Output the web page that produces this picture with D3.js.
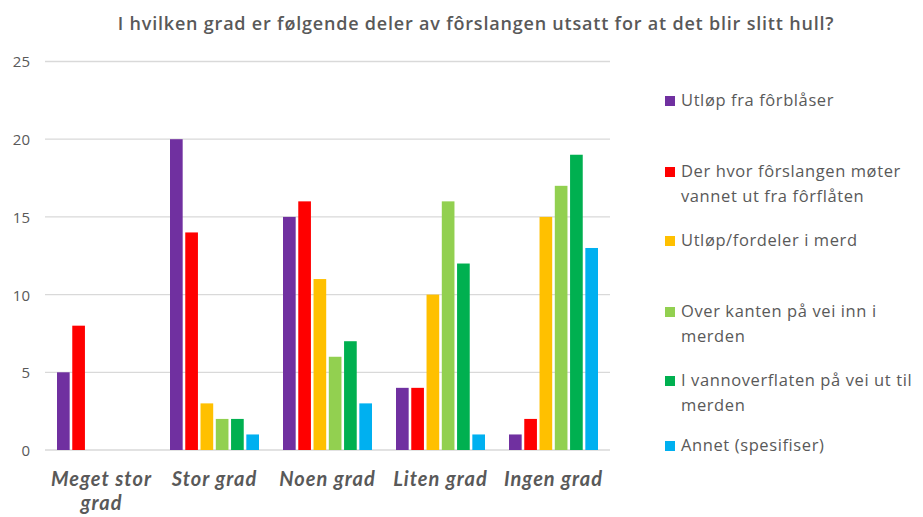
<!DOCTYPE html>
<html lang="no">
<head>
<meta charset="UTF-8">
<title>I hvilken grad er følgende deler av fôrslangen utsatt for at det blir slitt hull?</title>
<script src="https://d3js.org/d3.v7.min.js"></script>
<style>
    body { margin: 0; background: #fff; }
    svg { font-family: "Open Sans", Lato, sans-serif; }
    .title { font-size: 18px; font-weight: 600; fill: #595959; letter-spacing: 0.8px; }
    .ytick text { font-size: 15px; fill: #595959; font-family: "Open Sans", sans-serif; }
    .cat { font-family: Lato, sans-serif; font-size: 20px; font-weight: bold; font-style: italic; fill: #595959; letter-spacing: 1px; }
    .leg { font-size: 16.5px; fill: #595959; letter-spacing: 0.6px; }
</style>
</head>
<body>
<svg width="923" height="517"></svg>
<script>
    const categories = ["Meget stor grad", "Stor grad", "Noen grad", "Liten grad", "Ingen grad"];
    const seriesNames = [
        "Utløp fra fôrblåser",
        "Der hvor fôrslangen møter vannet ut fra fôrflåten",
        "Utløp/fordeler i merd",
        "Over kanten på vei inn i merden",
        "I vannoverflaten på vei ut til merden",
        "Annet (spesifiser)"
    ];
    const colors = ["#7030A0", "#FF0000", "#FFC000", "#92D050", "#00B050", "#00B0F0"];
    // one array per series, in category order
    const utlopForblaser = [5, 20, 15, 4, 1];
    const derHvor = [8, 14, 16, 4, 2];
    const utlopFordeler = [0, 3, 11, 10, 15];
    const overKanten = [0, 2, 6, 16, 17];
    const vannoverflaten = [0, 2, 7, 12, 19];
    const annet = [0, 1, 3, 1, 13];
    const yTicks = [0, 5, 10, 15, 20, 25];

    const series = [utlopForblaser, derHvor, utlopFordeler, overKanten, vannoverflaten, annet];

    const svg = d3.select("svg");
    const plotLeft = 45, plotRight = 610, plotTop = 61.5, plotBottom = 450;

    const x0 = d3.scaleBand().domain(categories).range([plotLeft, plotRight]);
    const x1 = d3.scaleBand().domain(d3.range(series.length))
        .range([12, x0.bandwidth() - 12]).paddingInner(0.17);
    const y = d3.scaleLinear().domain([0, 25]).range([plotBottom, plotTop]);

    svg.append("text")
        .attr("class", "title")
        .attr("x", 476).attr("y", 30)
        .attr("text-anchor", "middle")
        .text("I hvilken grad er følgende deler av fôrslangen utsatt for at det blir slitt hull?");

    // gridlines
    svg.append("g").selectAll("line")
        .data(yTicks)
        .join("line")
        .attr("x1", plotLeft).attr("x2", plotRight)
        .attr("y1", d => y(d)).attr("y2", d => y(d))
        .attr("stroke", "#d9d9d9")
        .attr("stroke-width", 1.3);

    const yAxis = svg.append("g")
        .attr("class", "ytick")
        .attr("transform", `translate(30,0)`)
        .call(d3.axisLeft(y).tickValues(yTicks).tickSize(0).tickPadding(0));
    yAxis.select(".domain").remove();
    yAxis.selectAll("text").attr("dy", "0.36em");

    // bars
    const groups = svg.append("g").selectAll("g")
        .data(categories)
        .join("g")
        .attr("transform", d => `translate(${x0(d)},0)`);

    groups.selectAll("rect")
        .data((c, ci) => series.map((s, si) => ({ si, v: s[ci] })).filter(d => d.v > 0))
        .join("rect")
        .attr("x", d => x1(d.si))
        .attr("width", x1.bandwidth())
        .attr("y", d => y(d.v))
        .attr("height", d => y(0) - y(d.v))
        .attr("fill", d => colors[d.si]);

    // wrap text to a width, one tspan per line
    function wrap(textSel, width, lineHeight) {
        textSel.each(function() {
            const t = d3.select(this);
            const words = t.text().split(" ");
            const x = t.attr("x");
            t.text(null);
            let line = [];
            let tspan = t.append("tspan").attr("x", x).attr("dy", 0);
            words.forEach(w => {
                line.push(w);
                tspan.text(line.join(" "));
                if (tspan.node().getComputedTextLength() > width && line.length > 1) {
                    line.pop();
                    tspan.text(line.join(" "));
                    line = [w];
                    tspan = t.append("tspan").attr("x", x).attr("dy", lineHeight).text(w);
                }
            });
        });
    }

    svg.append("g").selectAll("text")
        .data(categories)
        .join("text")
        .attr("class", "cat")
        .attr("x", d => x0(d) + x0.bandwidth() / 2)
        .attr("y", 486)
        .attr("text-anchor", "middle")
        .text(d => d)
        .call(wrap, 112, 24);

    // legend
    const legendY = [106, 177, 246, 317, 386, 451];
    const legend = svg.append("g").selectAll("g")
        .data(seriesNames)
        .join("g")
        .attr("transform", (d, i) => `translate(665,${legendY[i]})`);

    legend.append("rect")
        .attr("x", 0).attr("y", -10)
        .attr("width", 10).attr("height", 10)
        .attr("fill", (d, i) => colors[i]);

    legend.append("text")
        .attr("class", "leg")
        .attr("x", 16).attr("y", 0)
        .text(d => d)
        .call(wrap, 250, 25);
</script>
</body>
</html>
